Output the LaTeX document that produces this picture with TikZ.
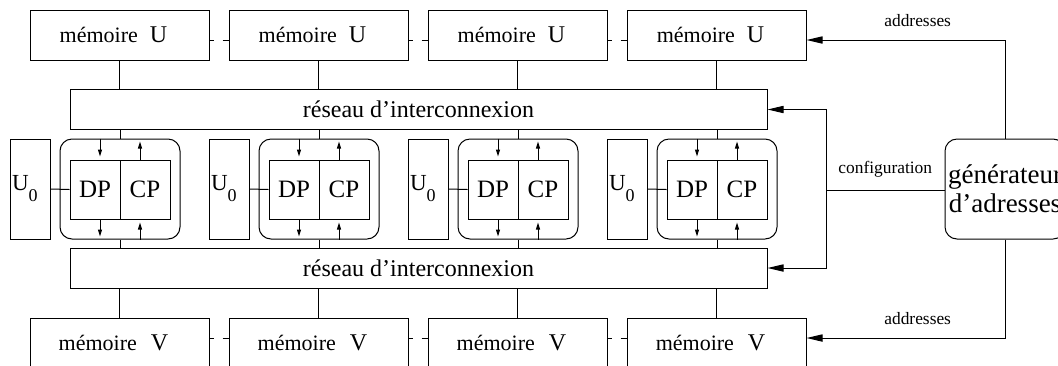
\documentclass[tikz,border=0pt]{standalone}
\usepackage{fontspec}
\setmainfont{Liberation Serif}
\usetikzlibrary{arrows.meta}
\usetikzlibrary{math}
\usetikzlibrary{positioning}

\begin{document}
\begin{tikzpicture}[x=0.5pt,y=-0.5pt,line width=0.5pt,
    memoire/.style={draw,rectangle,minimum width=89.5pt,minimum height=25pt,inner sep=0pt,font=\fontsize{11}{13}\selectfont},
    reseau/.style={draw,rectangle,minimum width=348.5pt,minimum height=20pt,inner sep=0pt,font=\fontsize{12}{14}\selectfont},
    uzero/.style={draw,rectangle,minimum width=20pt,minimum height=50pt,text width=18pt,align=left,inner xsep=1pt,font=\fontsize{11.5}{13}\selectfont},
    pe/.style={draw,rectangle,rounded corners=6pt,minimum width=60pt,minimum height=50pt},
    unite/.style={draw,rectangle,minimum width=25pt,minimum height=29.5pt,inner sep=0pt,font=\fontsize{12.5}{14}\selectfont},
    lien/.style={dash pattern=on 2pt off 4.5pt on 4pt off 4pt},
    petit/.style={-{Triangle[length=3.5pt,width=2pt]},shorten >=1.5pt},
    grand/.style={-{Triangle[length=8pt,width=3.6pt]}},
    etiq/.style={font=\fontsize{8.7}{10}\selectfont}]
    \useasboundingbox (0,0) rectangle (1058,365);
    \clip (0,0) rectangle (1058,365);
    \tikzmath{  \xd = 199 ;
                \xm = 119.5 ;
                \yu = 35 ;
                \yv = 343 ;
                \yp = 189 ;
                }
    \node[reseau] (res1) at (418.5,109.5) {réseau d'interconnexion};
    \node[reseau] (res2) at (418.5,268) {réseau d'interconnexion};
    \node[draw,rectangle,rounded corners=6pt,minimum width=60pt,minimum height=50pt,inner sep=0pt,align=center,font=\fontsize{13.5}{14.5}\selectfont] (gen) at (1005,189) {générateur\\d'adresses};
    \coordinate (rowu) at (0,40);
    \coordinate (rowv) at (0,338);
    \coordinate (cfg) at (826,190);

    \foreach \i in {1,...,4} {
        \tikzmath{ \xo = (\i-1)*\xd ; }
        \node[memoire] (memu\i) at (\xm+\xo,\yu) {mémoire\hspace{6pt}{\fontsize{12}{14}\selectfont U}\hspace*{6pt}};
        \node[memoire] (memv\i) at (\xm+\xo,\yv) {mémoire\hspace{7pt}{\fontsize{12}{14}\selectfont V}\hspace*{6pt}};
        \node[uzero] (uz\i) at (30+\xo,\yp) {U\raisebox{-5.5pt}{\fontsize{9}{9}\selectfont 0}};
        \node[pe] (pe\i) at (120+\xo,\yp) {};
        \node[unite] (dp\i) at (95+\xo,189.5) {DP};
        \node[unite] (cp\i) at (145+\xo,189.5) {CP};
        \draw (memu\i.south) -- (memu\i.south |- res1.north);
        \draw (pe\i.north |- res1.south) -- (pe\i.north);
        \draw (pe\i.south) -- (pe\i.south |- res2.north);
        \draw (memv\i.north |- res2.south) -- (memv\i.north);
        \draw (uz\i.east) -- (dp\i.west);
        \draw[petit] ([xshift=-10pt]pe\i.north) -- ([xshift=-10pt]pe\i.north |- dp\i.north);
        \draw[petit] ([xshift=10pt]pe\i.north |- cp\i.north) -- ([xshift=10pt]pe\i.north);
        \draw[petit] ([xshift=-10pt]pe\i.south |- dp\i.south) -- ([xshift=-10pt]pe\i.south);
        \draw[petit] ([xshift=10pt]pe\i.south) -- ([xshift=10pt]pe\i.south |- cp\i.south);
    }
    \foreach \i/\j in {1/2,2/3,3/4} {
        \draw[lien] (memu\i.east |- rowu) -- (memu\j.west |- rowu);
        \draw[lien] (memv\i.east |- rowv) -- (memv\j.west |- rowv);
    }

    \draw[grand] (gen.north) |- node [pos=0.72,above=3pt,etiq] {addresses} (memu4.east |- rowu);
    \draw[grand] (gen.south) |- node [pos=0.72,above=3pt,etiq] {addresses} (memv4.east |- rowv);
    \draw (gen.west |- cfg) -- node [midway,above=3pt,etiq] {configuration} (cfg);
    \draw[grand] (cfg) |- (res1.east);
    \draw[grand] (cfg) |- (res2.east);
\end{tikzpicture}
\end{document}
